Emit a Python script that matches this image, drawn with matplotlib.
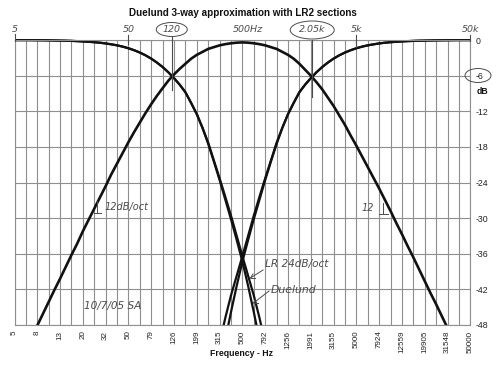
import numpy as np
import matplotlib
matplotlib.use("Agg")
import matplotlib.pyplot as plt
from matplotlib.ticker import NullFormatter, FixedLocator
from matplotlib.patches import Ellipse, Rectangle
from matplotlib.lines import Line2D
import matplotlib.transforms as mtransforms

# ---------------- data ----------------
# frequencies, 20 per decade (every second one is a vertical grid line)
FREQS = [5, 5.61, 6.29, 7.06, 7.92, 8.89, 9.98, 11.2, 12.56, 14.09,
         15.81, 17.74, 19.91, 22.33, 25.06, 28.12, 31.55, 35.4, 39.72, 44.57,
         50, 56.1, 62.9, 70.6, 79.2, 88.9, 99.8, 112, 125.6, 140.9,
         158.1, 177.4, 199.1, 223.3, 250.6, 281.2, 315.5, 354, 397.2, 445.7,
         500, 561, 629, 706, 792, 889, 998, 1120, 1256, 1409,
         1581, 1774, 1991, 2233, 2506, 2812, 3155, 3540, 3972, 4457,
         5000, 5610, 6295, 7063, 7924, 8891, 9976, 11194, 12559, 14092,
         15811, 17741, 19905, 22334, 25059, 28117, 31548, 35397, 39716, 44563,
         50000]
FREQ_TICK_LABELS = ["5", "8", "13", "20", "32", "50", "79", "126", "199", "315",
                    "500", "792", "1256", "1991", "3155", "5000", "7924", "12559",
                    "19905", "31548", "50000"]
DB_TICKS = [0, -6, -12, -18, -24, -30, -36, -42, -48]

# midrange band (LR2 high-pass at 120 Hz, LR2 low-pass at 2.05 kHz), all freqs
MID_DB = [-56.2, -54.2, -52.2, -50.2, -48.1, -46.1, -44.1, -42.1, -40.2, -38.2,
          -36.2, -34.3, -32.2, -30.3, -28.4, -26.5, -24.6, -22.6, -20.8, -19.0,
          -17.2, -15.5, -13.9, -12.3, -10.8, -9.4, -8.1, -6.85, -5.8, -4.85,
          -4.0, -3.15, -2.5, -2.0, -1.5, -1.2, -0.9, -0.7, -0.55, -0.45,
          -0.4, -0.45, -0.55, -0.7, -0.9, -1.2, -1.5, -2.0, -2.5, -3.15,
          -4.0, -5.0, -6.0, -7.1, -8.3, -9.7, -11.1, -12.7, -14.3, -16.1,
          -17.8, -19.6, -21.4, -23.2, -25.0, -26.9, -28.8, -30.8, -32.7, -34.7,
          -36.6, -38.6, -40.6, -42.6, -44.5, -46.5, -48.5, -50.5, -52.5, -54.5,
          -56.5]

# woofer low-pass, first 45 freqs (5 Hz .. 792 Hz)
WOOFER_LR_DB = [-0.02, -0.02, -0.02, -0.03, -0.04, -0.05, -0.06, -0.08, -0.1, -0.12,
                -0.15, -0.19, -0.24, -0.3, -0.37, -0.46, -0.58, -0.73, -0.9, -1.12,
                -1.39, -1.72, -2.11, -2.58, -3.14, -3.8, -4.56, -5.44, -6.43, -7.53,
                -8.8, -10.6, -12.5, -14.8, -17.3, -20.3, -23.3, -26.4, -29.6, -33.0,
                -36.4, -39.7, -43.0, -46.8, -51.0]
WOOFER_DUELUND_DB = [-0.02, -0.02, -0.02, -0.03, -0.04, -0.05, -0.06, -0.08, -0.1, -0.12,
                     -0.15, -0.19, -0.24, -0.3, -0.37, -0.46, -0.58, -0.73, -0.9, -1.12,
                     -1.39, -1.72, -2.11, -2.58, -3.14, -3.8, -4.56, -5.44, -6.43, -7.53,
                     -8.8, -10.6, -12.5, -14.8, -17.5, -20.5, -23.6, -26.9, -30.2, -33.7,
                     -37.3, -41.4, -45.8, -50.5, -55.5]

# tweeter high-pass, last 45 freqs (315 Hz .. 50 kHz)
TWEETER_LR_DB = [-51.0, -46.8, -43.0, -39.7, -36.4, -33.0, -29.6, -26.4, -23.3, -20.3,
                 -17.3, -14.8, -12.5, -10.6, -8.8, -7.53, -6.43, -5.44, -4.56, -3.8,
                 -3.14, -2.58, -2.11, -1.72, -1.39, -1.12, -0.9, -0.73, -0.58, -0.46,
                 -0.37, -0.3, -0.24, -0.19, -0.15, -0.12, -0.1, -0.08, -0.06, -0.05,
                 -0.04, -0.03, -0.02, -0.02, -0.02]
TWEETER_DUELUND_DB = [-55.5, -50.5, -45.8, -41.4, -37.3, -33.7, -30.2, -26.9, -23.6, -20.5,
                      -17.5, -14.8, -12.5, -10.6, -8.8, -7.53, -6.43, -5.44, -4.56, -3.8,
                      -3.14, -2.58, -2.11, -1.72, -1.39, -1.12, -0.9, -0.73, -0.58, -0.46,
                      -0.37, -0.3, -0.24, -0.19, -0.15, -0.12, -0.1, -0.08, -0.06, -0.05,
                      -0.04, -0.03, -0.02, -0.02, -0.02]

TITLE = "Duelund 3-way approximation with LR2 sections"
XLABEL = "Frequency - Hz"
TOP_NOTES = [(5, "5"), (50, "50"), (120, "120"), (560, "500Hz"),
             (2050, "2.05k"), (5000, "5k"), (50000, "50k")]

# ---------------- figure ----------------
W, H = 500, 365
GRIDC = "#8f8f8f"
INK = "#111111"
PEN = "#4c4c4c"

plt.rcParams['font.family'] = ['Liberation Sans', 'DejaVu Sans']

fig = plt.figure(figsize=(W / 100, H / 100), dpi=100)
fig.patch.set_facecolor("white")
ax_left, ax_right, ax_top, ax_bot = 14.5, 470.3, 40.0, 325.0
ax = fig.add_axes([ax_left / W, 1 - ax_bot / H, (ax_right - ax_left) / W, (ax_bot - ax_top) / H])
ax.set_xscale('log')
ax.set_xlim(FREQS[0], FREQS[-1])
ax.set_ylim(DB_TICKS[-1], DB_TICKS[0])

ax.xaxis.set_major_locator(FixedLocator(FREQS[::4]))
ax.xaxis.set_minor_locator(FixedLocator(FREQS[2::4]))
ax.xaxis.set_minor_formatter(NullFormatter())
ax.set_xticklabels(FREQ_TICK_LABELS, rotation=90, fontsize=5.8, color="#222222")
ax.set_yticks(DB_TICKS)
ax.set_yticklabels([str(v) for v in DB_TICKS], fontsize=6.3, color="#222222")
ax.yaxis.tick_right()
ax.tick_params(which='both', length=0)
ax.tick_params(axis='x', pad=4)
ax.tick_params(axis='y', pad=4)
ax.grid(True, which='both', axis='x', color=GRIDC, lw=0.8)
ax.grid(True, which='major', axis='y', color=GRIDC, lw=0.8)
ax.set_axisbelow(True)
for s in ax.spines.values():
    s.set_color(GRIDC)
    s.set_linewidth(0.8)

clip = Rectangle((0, 0), 1, 1.03, transform=ax.transAxes, visible=False)
ax.add_patch(clip)

def curve(freqs, vals, lw):
    ln, = ax.plot(freqs, vals, color=INK, lw=lw, solid_capstyle='butt',
                  solid_joinstyle='round')
    ln.set_clip_path(clip)

curve(FREQS, MID_DB, 1.9)
curve(FREQS[:45], WOOFER_LR_DB, 1.6)
curve(FREQS[:45], WOOFER_DUELUND_DB, 1.6)
curve(FREQS[36:], TWEETER_LR_DB, 1.6)
curve(FREQS[36:], TWEETER_DUELUND_DB, 1.6)

fig.text(242.5 / W, 1 - 12.5 / H, TITLE, ha='center', va='center',
         fontsize=7.1, fontweight='bold', color="#111111")
fig.text(242 / W, 1 - 353.5 / H, XLABEL, ha='center', va='center',
         fontsize=6.3, fontweight='bold', color="#111111")
fig.text(482 / W, 1 - 91 / H, "dB", ha='center', va='center',
         fontsize=6.2, fontweight='bold', color="#111111")

# ---------------- handwritten annotations ----------------
hand = dict(color=PEN, fontstyle='italic', family=['DejaVu Sans'])
bt = mtransforms.blended_transform_factory(ax.transData, fig.transFigure)

def fy(y):
    return 1 - y / H

for f, txt in TOP_NOTES:
    fig.text(f, fy(29.5), txt, transform=bt, ha='center', va='center', fontsize=6.8, **hand)

def xpix(f):
    return ax.transData.transform((f, 0))[0]

for (f, y, w, h) in [(120, 29.5, 31, 14), (2050, 30, 44, 18)]:
    fig.add_artist(Ellipse((xpix(f) / W, fy(y)), w / W, h / H, transform=fig.transFigure,
                           fill=False, ec=PEN, lw=0.7))
fig.add_artist(Ellipse((478 / W, fy(75.5)), 26 / W, 14 / H, transform=fig.transFigure,
                       fill=False, ec=PEN, lw=0.7))

for f, y0, y1 in [(5, 34, 41), (50, 35, 44), (120, 37, 90), (2050, 40, 97),
                  (5000, 35, 47), (50000, 35, 41)]:
    fig.add_artist(Line2D([f, f], [fy(y0), fy(y1)], transform=bt, color=PEN, lw=0.8))

def px_line(xs, ys, lw=0.7):
    fig.add_artist(Line2D([x / W for x in xs], [fy(y) for y in ys],
                          transform=fig.transFigure, color=PEN, lw=lw))

def px_text(x, y, s, size=6.0, ha='left'):
    fig.text(x / W, fy(y), s, ha=ha, va='center', fontsize=size, **hand)

px_line([97, 97], [201, 213])
px_line([94, 101], [213, 213])
px_text(105, 207, "12dB/oct", size=7)
px_text(362, 208, "12", size=7)
px_line([383, 383], [203, 214])
px_line([379, 388], [214, 214])
px_text(84, 306, "10/7/05 SA", size=7.6)
px_text(265, 264, "LR 24dB/oct", size=7.6)
px_line([263, 250.5], [270, 278])
px_line([250.5, 255], [278, 278])
px_line([250.5, 253], [278, 274])
px_text(271, 290, "Duelund", size=7.8)
px_line([269, 253.5], [291, 303])
px_line([253.5, 258], [303, 303])
px_line([253.5, 255.5], [303, 299])

fig.savefig("out.png", dpi=100, facecolor="white")
